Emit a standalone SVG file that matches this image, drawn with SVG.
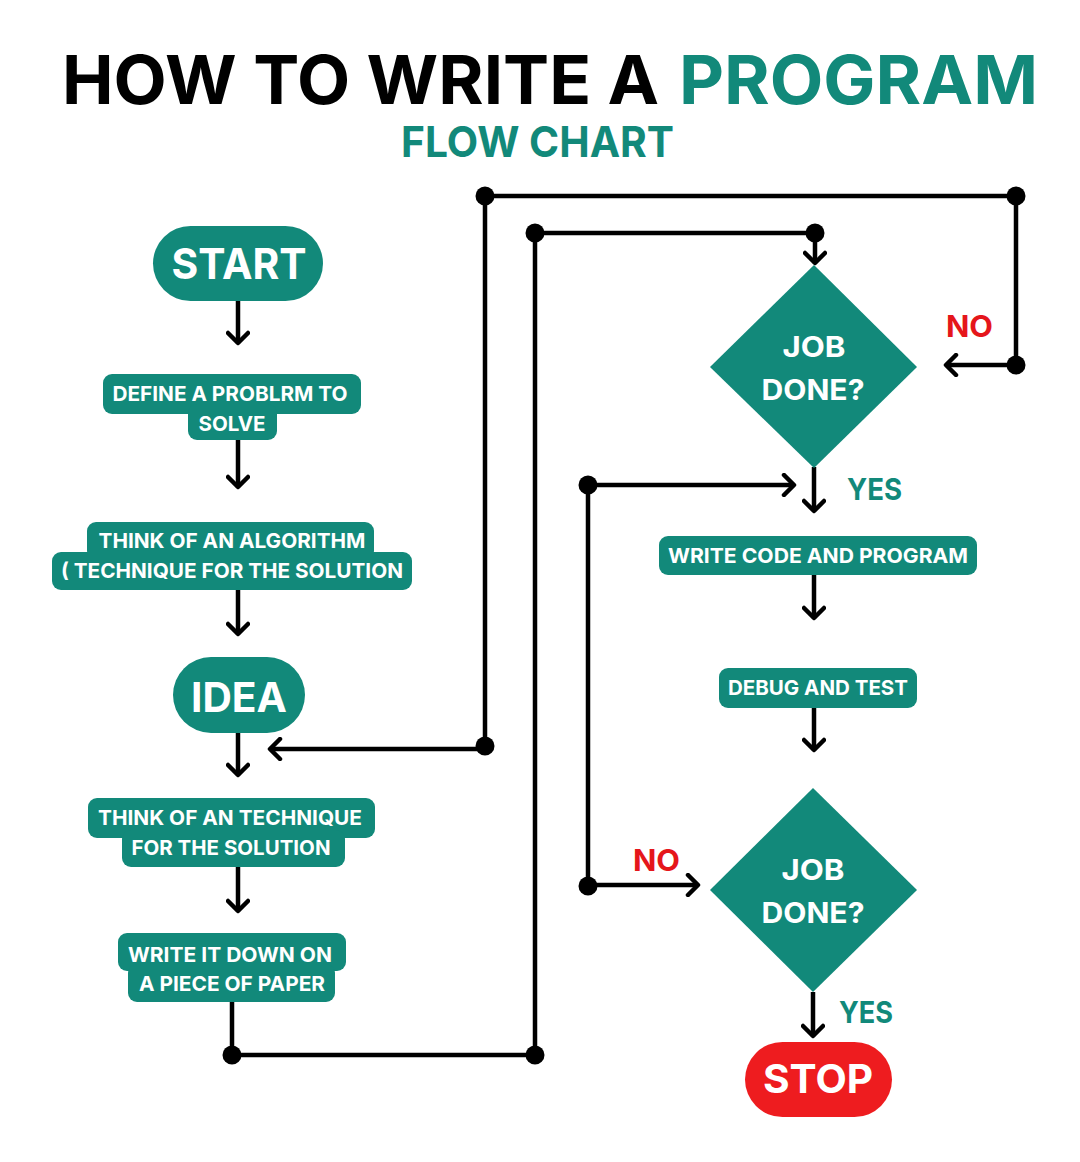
<svg xmlns="http://www.w3.org/2000/svg" width="1080" height="1162" viewBox="0 0 1080 1162">
<style>
.t{font-family:Inter,"Liberation Sans",sans-serif;font-weight:700;}
.box{fill:#12897A;}
.lbl{fill:#fff;font-size:20.5px;text-anchor:middle;}
.big{fill:#fff;text-anchor:middle;}
.dm{fill:#fff;font-size:29px;text-anchor:middle;}
.no{fill:#E5161B;font-size:30px;}
.yes{fill:#12897A;font-size:30px;}
.ln{fill:none;stroke:#000;stroke-width:4.5;stroke-linejoin:miter;}
.dot{fill:#000;}
</style>
<defs>
<marker id="chev" markerUnits="userSpaceOnUse" viewBox="0 0 24 24" markerWidth="24" markerHeight="24" refX="14" refY="12" orient="auto">
<path d="M4,2 L14,12 L4,22" fill="none" stroke="#000" stroke-width="4.5" stroke-linecap="round" stroke-linejoin="round"/>
</marker>
</defs>
<rect width="1080" height="1162" fill="#fff"/>
<g id="title">
<text class="t" x="62" y="104" font-size="68" font-weight="900" fill="#000" textLength="597" lengthAdjust="spacingAndGlyphs">HOW TO WRITE A</text>
<text class="t" x="679" y="104" font-size="68" font-weight="800" fill="#12897A" textLength="359" lengthAdjust="spacingAndGlyphs">PROGRAM</text>
<text class="t" x="401" y="157" font-size="43" fill="#12897A" textLength="273" lengthAdjust="spacingAndGlyphs">FLOW CHART</text>
</g>
<g id="connectors">
<line class="ln" x1="238" y1="301" x2="238" y2="343" marker-end="url(#chev)"/>
<line class="ln" x1="238" y1="440" x2="238" y2="487" marker-end="url(#chev)"/>
<line class="ln" x1="238" y1="590" x2="238" y2="634" marker-end="url(#chev)"/>
<line class="ln" x1="238" y1="733" x2="238" y2="775" marker-end="url(#chev)"/>
<line class="ln" x1="238" y1="867" x2="238" y2="911" marker-end="url(#chev)"/>
<path class="ln" d="M232,1002 V1055 H535 V233 H815 V263" marker-end="url(#chev)"/>
<path class="ln" d="M485,749 H270" marker-end="url(#chev)"/>
<path class="ln" d="M485,749 V196 H1016 V365 H946" marker-end="url(#chev)"/>
<line class="ln" x1="814" y1="467" x2="814" y2="511" marker-end="url(#chev)"/>
<path class="ln" d="M588,485 H794" marker-end="url(#chev)"/>
<path class="ln" d="M588,485 V885 H698" marker-end="url(#chev)"/>
<line class="ln" x1="814" y1="575" x2="814" y2="618" marker-end="url(#chev)"/>
<line class="ln" x1="814" y1="708" x2="814" y2="750" marker-end="url(#chev)"/>
<line class="ln" x1="813" y1="992" x2="813" y2="1036" marker-end="url(#chev)"/>
<circle class="dot" cx="232" cy="1055" r="9.5"/>
<circle class="dot" cx="535" cy="1055" r="9.5"/>
<circle class="dot" cx="535" cy="233" r="9.5"/>
<circle class="dot" cx="815" cy="233" r="9.5"/>
<circle class="dot" cx="485" cy="746" r="9.5"/>
<circle class="dot" cx="485" cy="196" r="9.5"/>
<circle class="dot" cx="1016" cy="196" r="9.5"/>
<circle class="dot" cx="1016" cy="365" r="9.5"/>
<circle class="dot" cx="588" cy="485" r="9.5"/>
<circle class="dot" cx="588" cy="886" r="9.5"/>
<text class="t no" x="946" y="337" textLength="47" lengthAdjust="spacingAndGlyphs">NO</text>
<text class="t yes" x="847" y="500" textLength="55" lengthAdjust="spacingAndGlyphs">YES</text>
<text class="t no" x="633" y="871" textLength="47" lengthAdjust="spacingAndGlyphs">NO</text>
<text class="t yes" x="839" y="1023" textLength="54" lengthAdjust="spacingAndGlyphs">YES</text>
</g>
<g id="start">
<rect class="box" x="153" y="226" width="170" height="75" rx="37.5"/>
<text class="t big" x="239" y="279" font-size="43" textLength="135" lengthAdjust="spacingAndGlyphs">START</text>
</g>
<g id="define">
<rect class="box" x="103" y="374" width="258" height="40" rx="9"/>
<rect class="box" x="188" y="404" width="89" height="36" rx="9"/>
<text class="t lbl" x="230" y="401" textLength="235" lengthAdjust="spacingAndGlyphs">DEFINE A PROBLRM TO</text>
<text class="t lbl" x="232" y="431" textLength="67" lengthAdjust="spacingAndGlyphs">SOLVE</text>
</g>
<g id="algorithm">
<rect class="box" x="87" y="522" width="287" height="38" rx="9"/>
<rect class="box" x="52" y="552" width="360" height="38" rx="9"/>
<text class="t lbl" x="232" y="548" textLength="267" lengthAdjust="spacingAndGlyphs">THINK OF AN ALGORITHM</text>
<text class="t lbl" x="232" y="578" textLength="342" lengthAdjust="spacingAndGlyphs">( TECHNIQUE FOR THE SOLUTION</text>
</g>
<g id="idea">
<rect class="box" x="173" y="657" width="132" height="76" rx="38"/>
<text class="t big" x="239" y="712" font-size="41" textLength="96" lengthAdjust="spacingAndGlyphs">IDEA</text>
</g>
<g id="technique">
<rect class="box" x="88" y="798" width="287" height="40" rx="9"/>
<rect class="box" x="122" y="830" width="223" height="37" rx="9"/>
<text class="t lbl" x="230" y="825" textLength="264" lengthAdjust="spacingAndGlyphs">THINK OF AN TECHNIQUE</text>
<text class="t lbl" x="231" y="855" textLength="199" lengthAdjust="spacingAndGlyphs">FOR THE SOLUTION</text>
</g>
<g id="writedown">
<rect class="box" x="118" y="933" width="228" height="38" rx="9"/>
<rect class="box" x="128" y="964" width="207" height="38" rx="9"/>
<text class="t lbl" x="230" y="962" textLength="204" lengthAdjust="spacingAndGlyphs">WRITE IT DOWN ON</text>
<text class="t lbl" x="232" y="991" textLength="186" lengthAdjust="spacingAndGlyphs">A PIECE OF PAPER</text>
</g>
<g id="decision1">
<polygon class="box" points="814,265 917,367 814,468 710,367"/>
<text class="t dm" x="814" y="357" textLength="63" lengthAdjust="spacingAndGlyphs">JOB</text>
<text class="t dm" x="813" y="400" textLength="103" lengthAdjust="spacingAndGlyphs">DONE?</text>
</g>
<g id="writecode">
<rect class="box" x="659" y="536" width="318" height="39" rx="9"/>
<text class="t lbl" x="818" y="563" textLength="300" lengthAdjust="spacingAndGlyphs">WRITE CODE AND PROGRAM</text>
</g>
<g id="debug">
<rect class="box" x="719" y="668" width="198" height="40" rx="9"/>
<text class="t lbl" x="818" y="695" textLength="180" lengthAdjust="spacingAndGlyphs">DEBUG AND TEST</text>
</g>
<g id="decision2">
<polygon class="box" points="813,788 917,890 813,992 710,890"/>
<text class="t dm" x="813" y="880" textLength="63" lengthAdjust="spacingAndGlyphs">JOB</text>
<text class="t dm" x="813" y="923" textLength="103" lengthAdjust="spacingAndGlyphs">DONE?</text>
</g>
<g id="stop">
<rect x="745" y="1042" width="147" height="75" rx="37.5" fill="#EE1C1F"/>
<text class="t big" x="818" y="1093" font-size="40" textLength="110" lengthAdjust="spacingAndGlyphs">STOP</text>
</g>
</svg>
